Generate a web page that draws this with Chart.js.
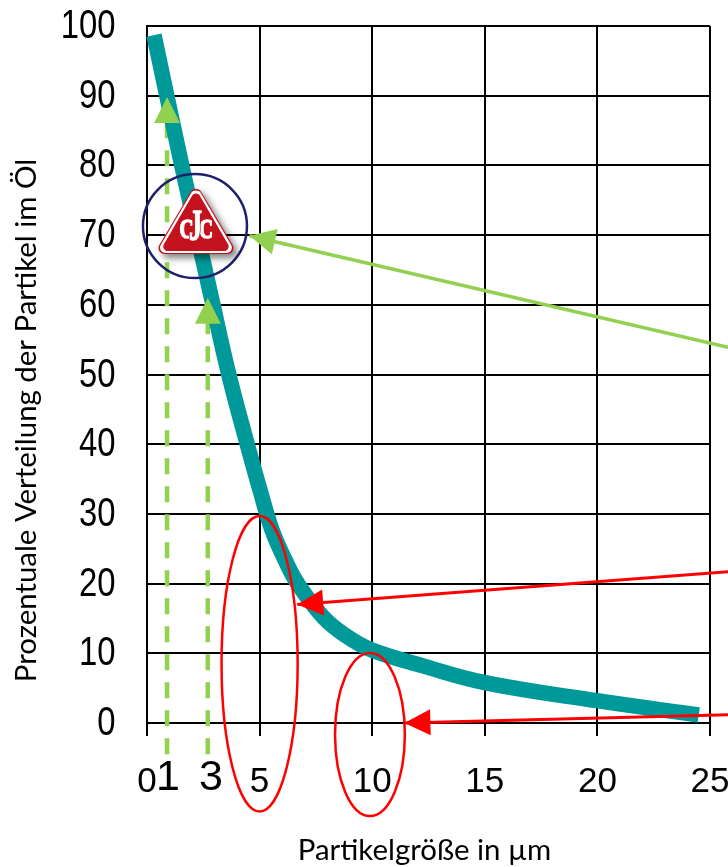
<!DOCTYPE html>
<html>
<head>
<meta charset="utf-8">
<style>html,body{margin:0;padding:0;background:#fff}canvas{display:block}</style>
<script src="https://cdn.jsdelivr.net/npm/chart.js@4"></script>
</head>
<body>
<canvas id="c" width="728" height="867"></canvas>
<script>
const curveX = [0.31,1.55,2.84,3.64,4.4,5.02,5.55,6.13,6.71,7.82,8.79,9.95,12.25,15,19.98,24.5];
const curveY = [98.7,79.9,61.3,49.9,40.6,33.4,27.7,23.4,19.9,15.2,12.6,10.5,8.2,5.8,3.2,1.15];
const dash1X = [0.89,0.89];
const dash1Y = [-4.5,86.2];
const dash3X = [2.7,2.7];
const dash3Y = [-4.5,57.4];
const greenArrowX = [25.8,4.55];
const greenArrowY = [53.9,69.9];
const redArrowAX = [25.8,6.67];
const redArrowAY = [21.7,17];
const redArrowBX = [25.8,11.43];
const redArrowBY = [1.2,0];
const extraTickValues = [0.93,2.84];
const extraTickLabels = ['1','3'];
const yTitle = 'Prozentuale Verteilung der Partikel im Öl';
const xTitle = 'Partikelgröße in µm';
const GREEN='#92D050', RED='#FF0000', TEAL='#009999', NAVY='#1F1F6E', LOGO='#C4121E';

const toPts=(xs,ys)=>xs.map((x,i)=>({x,y:ys[i]}));
function head(ctx,x,y,fromX,fromY,len,hw,color){
  const a=Math.atan2(fromY-y,fromX-x);
  ctx.save();ctx.translate(x,y);ctx.rotate(a);ctx.fillStyle=color;
  ctx.beginPath();ctx.moveTo(0,0);ctx.lineTo(len,-hw);ctx.lineTo(len,hw);ctx.closePath();ctx.fill();ctx.restore();
}
function tri(ctx,cx,top,bot,hw,r){
  ctx.beginPath();
  ctx.moveTo(cx,bot);
  ctx.arcTo(cx+hw,bot,cx,top,r);
  ctx.arcTo(cx,top,cx-hw,bot,r);
  ctx.arcTo(cx-hw,bot,cx+hw,bot,r);
  ctx.closePath();
}
const overlay={id:'overlay',afterDatasetsDraw(chart){
  const ctx=chart.ctx,X=chart.scales.x,Y=chart.scales.y;
  const px=v=>X.getPixelForValue(v),py=v=>Y.getPixelForValue(v);
  head(ctx,px(dash1X[0]),py(89.8),px(dash1X[0]),py(0),26,13,GREEN);
  head(ctx,px(dash3X[0]),py(61),px(dash3X[0]),py(0),26,13,GREEN);
  head(ctx,px(greenArrowX[1]),py(greenArrowY[1]),px(greenArrowX[0]),py(greenArrowY[0]),26,13,GREEN);
  head(ctx,px(redArrowAX[1]),py(redArrowAY[1]),px(redArrowAX[0]),py(redArrowAY[0]),26,13,RED);
  head(ctx,px(redArrowBX[1]),py(redArrowBY[1]),px(redArrowBX[0]),py(redArrowBY[0]),26,13,RED);
  ctx.save();ctx.strokeStyle=RED;ctx.lineWidth=2.5;
  [[5,8.5,1.69,21.2],[9.9,-1.65,1.55,11.7]].forEach(e=>{
    const cx=px(e[0]),cy=py(e[1]),rx=px(e[0]+e[2])-cx,ry=cy-py(e[1]+e[3]);
    ctx.beginPath();ctx.ellipse(cx,cy,rx,ry,0,0,Math.PI*2);ctx.stroke();
  });
  const cx=px(2.13),cy=py(71.3);
  ctx.strokeStyle=NAVY;ctx.lineWidth=2.5;ctx.beginPath();ctx.arc(cx,cy,52,0,Math.PI*2);ctx.stroke();
  ctx.lineJoin='round';
  ctx.shadowColor='rgba(0,0,0,.5)';ctx.shadowBlur=7;ctx.shadowOffsetX=4;ctx.shadowOffsetY=4;
  ctx.fillStyle=LOGO;tri(ctx,cx+1,cy-43,cy+28,42,6);ctx.fill();
  ctx.shadowColor='transparent';ctx.shadowBlur=0;ctx.shadowOffsetX=0;ctx.shadowOffsetY=0;
  ctx.fillStyle='#fff';tri(ctx,cx+1,cy-41,cy+27,40,5.5);ctx.fill();
  ctx.fillStyle=LOGO;tri(ctx,cx+1,cy-37,cy+25,36,4.5);ctx.fill();
  ctx.textAlign='center';ctx.textBaseline='alphabetic';
  ctx.font='bold 28px "Liberation Serif"';ctx.fillStyle='#fff';
  ctx.lineWidth=1.6;ctx.strokeStyle='#fff';
  ctx.fillText('C',cx-8.5,cy+12,14);ctx.strokeText('C',cx-8.5,cy+12,14);
  ctx.fillText('C',cx+11,cy+12,14);ctx.strokeText('C',cx+11,cy+12,14);
  ctx.font='bold 44px "Liberation Serif"';
  ctx.lineWidth=4;ctx.strokeStyle=LOGO;ctx.strokeText('J',cx+0.5,cy+14,13);
  ctx.lineWidth=1.4;ctx.strokeStyle='#fff';ctx.strokeText('J',cx+0.5,cy+14,13);
  ctx.fillText('J',cx+0.5,cy+14,13);
  ctx.fillStyle='#000';ctx.font='43px "Liberation Sans"';ctx.textBaseline='middle';
  extraTickValues.forEach((v,i)=>ctx.fillText(extraTickLabels[i],px(v),778));
  // y tick labels: condensed like the reference
  ctx.font='40px "Liberation Sans"';ctx.textAlign='right';
  Y.ticks.forEach(t=>{
    ctx.save();ctx.translate(115.5,py(t.value)+1);ctx.scale(0.82,1);ctx.fillText(t.label,0,0);ctx.restore();
  });
  ctx.font='29.4px Lato';ctx.textAlign='center';ctx.textBaseline='middle';
  ctx.fillText(xTitle,424.5,851);
  ctx.translate(27,420.5);ctx.rotate(-Math.PI/2);ctx.fillText(yTitle,0,0);
  ctx.restore();
}};
const lineDs=(xs,ys,color,w,order,extra)=>Object.assign({data:toPts(xs,ys),borderColor:color,borderWidth:w,pointRadius:0,fill:false,clip:false,order,tension:0,borderCapStyle:'butt'},extra||{});
new Chart(document.getElementById('c'),{
  type:'line',
  data:{datasets:[
    lineDs(dash1X,dash1Y,GREEN,4.5,4,{borderDash:[16,12]}),
    lineDs(dash3X,dash3Y,GREEN,4.5,4,{borderDash:[16,12]}),
    lineDs(curveX,curveY,TEAL,15.5,3,{tension:0.4}),
    lineDs(greenArrowX,greenArrowY,GREEN,3.5,2),
    lineDs(redArrowAX,redArrowAY,RED,3,1),
    lineDs(redArrowBX,redArrowBY,RED,3,1)
  ]},
  options:{
    responsive:false,animation:false,devicePixelRatio:1,
    layout:{padding:{top:26,right:18,left:0,bottom:0}},
    plugins:{legend:{display:false},title:{display:false},tooltip:{enabled:false}},
    scales:{
      x:{type:'linear',min:0,max:25,
        afterFit(s){s.height=144;s.paddingLeft=0;s.paddingRight=0;s.paddingTop=0;s.paddingBottom=0},
        grid:{color:'#000',lineWidth:2,tickLength:13,tickColor:'#000'},
        border:{color:'#000',width:2},
        ticks:{stepSize:5,color:'#000',padding:25,maxRotation:0,font:{family:'Liberation Sans',size:35}},
        title:{display:false}
      },
      y:{type:'linear',min:0,max:100,
        afterFit(s){s.width=147;s.paddingLeft=0;s.paddingRight=0;s.paddingTop=0;s.paddingBottom=0},
        grid:{color:'#000',lineWidth:2,drawTicks:false},
        border:{color:'#000',width:2},
        ticks:{stepSize:10,display:false},
        title:{display:false}
      }
    }
  },
  plugins:[overlay]
});
</script>
</body>
</html>
